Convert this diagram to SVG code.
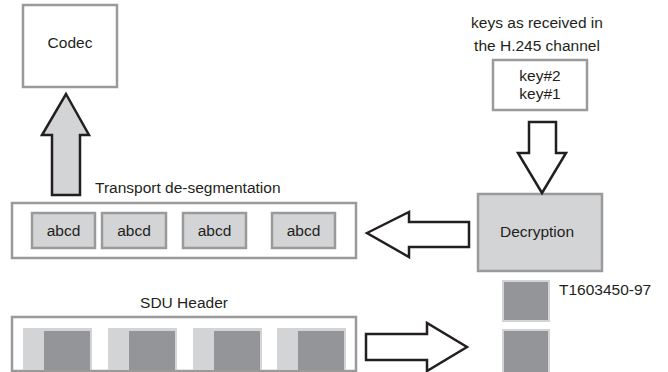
<svg xmlns="http://www.w3.org/2000/svg" width="668" height="372" viewBox="0 0 668 372">
  <style>
    .lbl { font-family: "Liberation Sans", Arial, sans-serif; font-size: 15.5px; fill: #231f20; }
    .mid { text-anchor: middle; }
    .box { fill: #ffffff; stroke: #9a9a9a; stroke-width: 2.5; }
    .gbox { fill: #d3d4d6; stroke: #9a9a9a; stroke-width: 2.5; }
    .arrow { stroke: #231f20; stroke-width: 2.5; stroke-linejoin: miter; }
    .light { fill: #d3d4d6; }
    .dark { fill: #939598; }
  </style>
  <rect width="668" height="372" fill="#ffffff"/>

  <g id="codec">
    <rect class="box" x="23" y="5" width="94" height="82"/>
    <text class="lbl mid" x="70" y="48">Codec</text>
  </g>

  <g id="keys">
    <text class="lbl mid" x="537" y="28">keys as received in</text>
    <text class="lbl mid" x="537" y="51">the H.245 channel</text>
    <rect class="box" x="493" y="60" width="94" height="50"/>
    <text class="lbl mid" x="540" y="81">key#2</text>
    <text class="lbl mid" x="540" y="99">key#1</text>
  </g>

  <g id="decryption">
    <rect class="gbox" x="478" y="194" width="124" height="77"/>
    <text class="lbl mid" x="537" y="237">Decryption</text>
  </g>

  <g id="transport">
    <text class="lbl" x="95" y="193">Transport de-segmentation</text>
    <rect class="box" x="12" y="203" width="344" height="55"/>
    <rect class="gbox" x="32" y="213" width="63" height="35"/>
    <rect class="gbox" x="102" y="213" width="64" height="35"/>
    <rect class="gbox" x="183" y="213" width="63" height="35"/>
    <rect class="gbox" x="272" y="213" width="63" height="35"/>
    <text class="lbl mid" x="63.5" y="236">abcd</text>
    <text class="lbl mid" x="134" y="236">abcd</text>
    <text class="lbl mid" x="214.5" y="236">abcd</text>
    <text class="lbl mid" x="303.5" y="236">abcd</text>
  </g>

  <g id="sdu">
    <text class="lbl mid" x="184" y="308">SDU Header</text>
    <rect class="box" x="12" y="317" width="344" height="54"/>
    <rect class="light" x="23" y="328" width="69" height="42"/>
    <rect class="dark" x="44" y="331" width="46" height="39"/>
    <rect class="light" x="108" y="328" width="69" height="42"/>
    <rect class="dark" x="129" y="331" width="46" height="39"/>
    <rect class="light" x="193" y="328" width="69" height="42"/>
    <rect class="dark" x="214" y="331" width="46" height="39"/>
    <rect class="light" x="277" y="328" width="69" height="42"/>
    <rect class="dark" x="298" y="331" width="46" height="39"/>
  </g>

  <g id="blocks">
    <rect class="light" x="502" y="280" width="48" height="42"/>
    <rect class="dark" x="504" y="282" width="44" height="38"/>
    <rect class="light" x="502" y="329" width="48" height="43"/>
    <rect class="dark" x="504" y="331" width="44" height="41"/>
    <text class="lbl" x="559" y="295">T1603450-97</text>
  </g>

  <g id="connectors">
    <!-- up into the codec -->
    <polygon class="arrow" fill="#d3d4d6" points="66,94 89,135 80,135 80,195 52,195 52,135 42,135"/>
    <!-- keys down into decryption -->
    <polygon class="arrow" fill="#ffffff" points="529,122 556,122 556,153 566,153 542,193 518,153 529,153"/>
    <!-- decryption out to transport -->
    <polygon class="arrow" fill="#ffffff" points="367,233 409,212 409,222 469,222 469,247 409,247 409,257"/>
    <!-- sdu into blocks -->
    <polygon class="arrow" fill="#ffffff" points="366,334 427,334 427,323 467,347 427,371 427,360 366,360"/>
  </g>
</svg>
